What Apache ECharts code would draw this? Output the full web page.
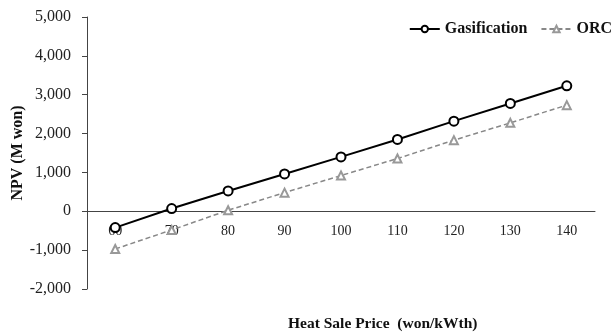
<!DOCTYPE html>
<html><head><meta charset="utf-8">
<script src="https://cdn.jsdelivr.net/npm/echarts@6/dist/echarts.min.js"></script>
<style>html,body{margin:0;padding:0;background:#fff}#c{width:615px;height:336px}</style>
</head><body><div id="c"></div>
<script>
var categories = ['60','70','80','90','100','110','120','130','140'];
var gasification = [-420, 70, 523, 960, 1400, 1848, 2320, 2775, 3229];
var orc = [-970, -480, 26, 480, 920, 1358, 1830, 2276, 2732];
var yTicks = {min: -2000, max: 5000, interval: 1000};

var chart = echarts.init(document.getElementById('c'));
var font = '"Liberation Serif", "Times New Roman", serif';
var gridTop = 17, gridBottom = 47, gridH = 336 - gridTop - gridBottom;
var zeroOffset = gridH * (0 - yTicks.min) / (yTicks.max - yTicks.min);
chart.setOption({
  animation: false,
  textStyle: {fontFamily: font},
  grid: {left: 87, right: 20, top: gridTop, bottom: gridBottom, containLabel: false, outerBoundsMode: 'none'},
  legend: {
    right: -2, top: 16, itemWidth: 30, itemHeight: 8, itemGap: 13,
    textStyle: {fontFamily: font, fontWeight: 'bold', fontSize: 16, color: '#111'},
    data: ['Gasification', 'ORC']
  },
  graphic: [{
    type: 'text', left: 288, top: 316,
    style: {text: 'Heat Sale Price  (won/kWth)', font: 'bold 15.5px ' + font, fill: '#111'}
  }],
  xAxis: {
    type: 'category', data: categories, boundaryGap: true,
    offset: -zeroOffset,
    axisLine: {onZero: false, lineStyle: {color: '#444', width: 1}},
    axisTick: {alignWithLabel: true, inside: true, length: 5, lineStyle: {color: '#444'}},
    axisLabel: {color: '#222', fontSize: 14, fontFamily: font, margin: 13}
  },
  yAxis: {
    type: 'value', min: yTicks.min, max: yTicks.max, interval: yTicks.interval,
    name: 'NPV (M won)', nameLocation: 'middle', nameGap: 61, nameMoveOverlap: false,
    nameTextStyle: {fontFamily: font, fontWeight: 'bold', fontSize: 16, color: '#111'},
    splitLine: {show: false},
    axisLine: {show: true, lineStyle: {color: '#444', width: 1}},
    axisTick: {show: true, length: 5, lineStyle: {color: '#444'}},
    axisLabel: {color: '#222', fontSize: 16, fontFamily: font, margin: 16,
      formatter: function (v) { return v.toLocaleString('en-US'); }}
  },
  series: [{
    name: 'Gasification', type: 'line', data: gasification,
    symbol: 'emptyCircle', symbolSize: 9,
    lineStyle: {color: '#000', width: 2},
    itemStyle: {color: '#000', borderColor: '#000', borderWidth: 1}
  }, {
    name: 'ORC', type: 'line', data: orc,
    symbol: 'emptyTriangle', symbolSize: 8,
    lineStyle: {color: '#888', width: 1.5, type: [5, 3]},
    itemStyle: {color: '#999', borderColor: '#999', borderWidth: 1}
  }]
});
</script></body></html>
